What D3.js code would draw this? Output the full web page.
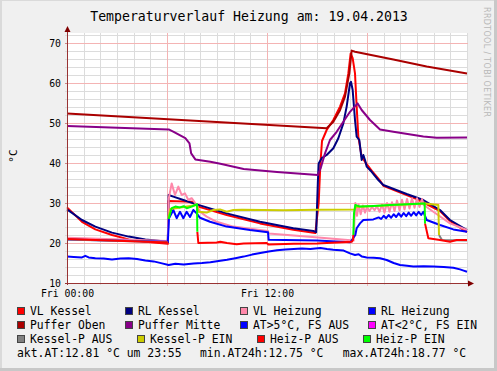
<!DOCTYPE html>
<html>
<head>
<meta charset="utf-8">
<script src="https://cdn.jsdelivr.net/npm/d3@7"></script>
<style>
body { margin: 0; background: #f0f0f0; }
svg { display: block; }
</style>
</head>
<body>
<div id="canvas"></div>
<script>
"use strict"

/* Data: [hour of the day, temperature in °C], null breaks a line */
let vlKessel = [[0,28.9],[0.9,25.3],[1.7,23.4],[2.7,22],[3.7,20.9],[4.7,20.3],[6.05,19.8],[6.08,30.5],[7.5,30.3],[7.88,29.1],
    [9.58,27.0],[11.58,24.9],[13.58,23.3],[14.9,22.5],[15.1,30],[15.2,39.5],[15.3,45.5],[15.58,48.25],[15.98,50.75],[16.38,54.1],
    [16.68,57.4],[16.88,62.4],[17.02,67.4],[17.14,66.2],[17.28,62.4],[17.38,54.1],[17.48,46.6],[17.68,41.6],[17.98,39.7],
    [18.28,38.1],[18.78,35.6],[18.98,34.3],[20.38,32.0],[20.98,31.0],[22.38,28.0],[22.98,25.5],[24,22.7]];

let rlKessel = [[0,28.4],[0.9,25.75],[1.7,24.1],[2.7,22.6],[3.7,21.6],[4.7,20.9],[6.05,20.3],[6.1,32],[6.38,31.6],[6.98,30.75],
    [7.58,29.9],[9.58,27.4],[11.58,25.3],[13.58,23.7],[14.78,23],[14.95,22.7],[15.05,35],[15.1,39.9],[15.28,41.2],[15.58,42],
    [15.98,43.7],[16.28,46.2],[16.58,49.9],[16.78,54.1],[16.98,59.9],[17.04,60.3],[17.14,58.25],[17.28,50.75],[17.38,46.6],
    [17.54,45.75],[17.68,40.75],[17.78,42],[17.88,40.75],[17.98,39.1],[18.28,37.8],[18.68,35.75],[18.98,34.5],[20.38,32.25],
    [21.38,30.75],[22.38,28.25],[22.98,25.75],[24,23.25]];

let vlHeizung = [[0,21.3],[6.05,20.5],[6.1,31],[6.28,34.9],[6.48,32],[6.68,34.1],[6.88,32],[7.08,32.4],[7.28,30.75],[7.48,31.2],
    [7.78,29.5],[7.98,27.8],[8.38,26.6],[8.98,25.3],[9.98,24.1],[11.58,23.25],[12.06,23],[12.1,22.4],[13.6,21.9],[15.08,21.4],
    [17.2,20.6],[17.25,26],[17.3,30.0],[17.4,26.8],[17.5,29.6],[17.62,27.2],[17.75,29.4],[17.88,27.6],[18.0,29.0],[18.15,28.0],
    [18.3,29.0],[18.45,28.2],[18.6,29.2],[18.75,27.8],[18.9,29.6],[19.05,27.6],[19.2,30.0],[19.35,27.8],[19.5,30.2],[19.65,28.0],
    [19.8,30.6],[19.95,28.2],[20.1,30.8],[20.25,28.4],[20.4,31.0],[20.55,28.6],[20.7,31.2],[20.85,28.8],[21.0,31.2],[21.15,29.0],
    [21.3,31.0],[21.4,29.5],[21.98,27.8],[22.98,24.9],[24,23.25]];

let rlHeizung = [[0,20.9],[6.05,20.3],[6.12,26.2],[6.38,28.25],[6.58,26.2],[6.78,27.8],[6.98,26.2],[7.18,27.8],[7.38,26.5],
    [7.58,28.25],[7.78,27.4],[7.98,26.3],[8.58,25.3],[9.58,24.1],[10.98,23.25],[12.06,22.7],[12.1,20.8],[15,20.6],[17.0,20.2],
    [17.3,22],[17.38,23.7],[17.58,24.9],[17.78,25.75],[18.38,25.9],[18.7,26.4],[18.85,26.0],[19.0,26.8],[19.15,26.2],[19.3,27.0],
    [19.45,26.3],[19.6,27.2],[19.75,26.5],[19.9,27.4],[20.05,26.6],[20.2,27.5],[20.35,26.7],[20.5,27.6],[20.65,26.8],[20.8,27.7],
    [20.95,26.9],[21.1,27.8],[21.25,27.0],[21.38,27.8],[21.58,25.75],[22.38,24.5],[23.18,23.4],[24,22.8]];

let pufferOben = [[0,52.4],[15.58,48.7],[15.98,50.3],[16.38,53.2],[16.68,56.6],[16.94,62.4],[17.08,68.1],[17.28,67.8],
    [19.58,65.9],[21.58,64.1],[24,62.4]];

let pufferMitte = [[0,49.25],[6.1,48.4],[6.4,47.8],[7.1,46.2],[7.35,44.9],[7.45,42.4],[7.7,40.9],[8.6,40.3],[9.2,39.8],
    [10.6,38.5],[12.6,37.75],[15.05,37],[15.22,38.7],[15.48,42.4],[15.78,45.75],[16.18,47.8],[16.58,50.3],[16.98,52.8],
    [17.44,54.9],[17.68,53.25],[18.18,50.75],[18.78,48.4],[19.58,47.8],[21.38,46.6],[22.18,46.3],[24,46.4]];

let atWarm = [[0,16.6],[0.4,16.5],[0.9,16.4],[1.1,16.8],[1.3,16.4],[1.7,16.2],[2.2,16.1],[2.7,15.9],[3.2,16.1],[3.7,16.2],
    [4.2,16.0],[4.7,15.6],[5.2,15.4],[5.7,14.9],[6.1,14.5],[6.5,14.8],[7.0,14.6],[7.6,14.9],[8.1,15.0],[8.6,15.2],[9.1,15.5],
    [9.6,15.8],[10.1,16.2],[10.6,16.6],[11.1,17.1],[11.6,17.5],[12.1,17.9],[12.6,18.2],[13.1,18.4],[13.6,18.5],[14.1,18.6],
    [14.6,18.5],[15.2,18.77],[15.6,18.5],[15.98,18.3],[16.6,18.1],[16.98,17.4],[17.28,17.0],[17.5,17.2],[17.7,16.6],[17.98,16.4],
    [18.4,16.3],[18.78,16.2],[19.18,15.75],[19.6,15.0],[19.98,14.5],[20.4,14.3],[20.78,14.1],[21.4,14.2],[21.98,14.1],
    [22.6,14.0],[23.18,13.8],[23.58,13.4],[23.8,13.1],[24,12.8]];

let atCold = [];

let kesselPAus = [[0,20.9],[6.05,20.2],null,[22.32,22],[22.5,20.75],[24,20.6]];

let kesselPEin = [[6.08,26.2],[6.2,28.5],[7.8,29.5],[7.88,27.8],[8.38,27.6],[8.78,28.25],[9.18,28.4],[9.58,27.8],[9.98,28.25],
    [10.5,28.3],[13.0,28.2],[15.0,28.3],[17.28,28.4],[17.3,29],[21.48,29.9],[22.28,29.5],[22.32,22]];

let heizPAus = [[0,21],[6.05,20.1],null,[7.82,22.8],[7.88,20],[8.98,20.1],[9.2,20.3],[9.6,20.0],[10.18,19.7],[10.6,19.9],
    [11.98,20.0],[12.1,19.6],[13.6,19.8],[15,19.9],[17.08,20.3],[17.16,20.75],[17.18,22],null,[21.48,24.9],[21.68,21.2],
    [22.38,20.75],[22.98,20.3],[23.38,20.75],[24,20.75]];

let heizPEin = [[6.1,26],[6.28,28.7],[6.5,29.1],[6.78,28.9],[7.0,29.2],[7.18,28.7],[7.48,29.1],[7.68,29.5],[7.8,29.7],[7.82,22.8],
    null,[17.18,22],[17.22,27.4],[17.3,29.5],[17.58,29.1],[18.38,29.25],[19.38,29.5],[20.38,29.7],[21.38,29.9],[21.46,29.9],[21.48,24.9]];

/* Series in drawing order, names and colours of the legend */
let seriesData = [vlKessel, rlKessel, vlHeizung, rlHeizung, pufferOben, pufferMitte, atWarm, atCold,
    kesselPAus, kesselPEin, heizPAus, heizPEin];
let seriesNames = ["VL Kessel", "RL Kessel", "VL Heizung", "RL Heizung", "Puffer Oben", "Puffer Mitte",
    "AT>5°C, FS AUS", "AT<2°C, FS EIN", "Kessel-P AUS", "Kessel-P EIN", "Heiz-P AUS", "Heiz-P EIN"];
let seriesColors = ["#ff0000", "#000080", "#ff88aa", "#0000ff", "#aa0000", "#880088",
    "#0000ff", "#ff00ff", "#808080", "#cccc00", "#ff0000", "#00ff00"];

/* Axis ticks */
let yTicks = [10, 20, 30, 40, 50, 60, 70];
let xTickHours = [0, 12];
let xTickLabels = ["Fri 00:00", "Fri 12:00"];

let titleText = "Temperaturverlauf Heizung am: 19.04.2013";
let statsTexts = ["akt.AT:12.81 °C um 23:55", "min.AT24h:12.75 °C", "max.AT24h:18.77 °C"];

/* Canvas */
let drawing = d3.select("#canvas")
    .append("svg")
    .attr("width", 497)
    .attr("height", 371);

let mono = "DejaVu Sans Mono, monospace";

/* background and shaded border */
drawing.append("rect")
    .attr("width", 497).attr("height", 371)
    .attr("fill", "#f0f0f0");
drawing.append("rect").attr("x", 0).attr("y", 0).attr("width", 2).attr("height", 371).attr("fill", "#dadada");
drawing.append("rect").attr("x", 0).attr("y", 0).attr("width", 497).attr("height", 1).attr("fill", "#dadada");
drawing.append("rect").attr("x", 494).attr("y", 0).attr("width", 3).attr("height", 371).attr("fill", "#c8c8c8");
drawing.append("rect").attr("x", 0).attr("y", 368).attr("width", 497).attr("height", 3).attr("fill", "#c8c8c8");

/* Scales */
let x = d3.scaleLinear().domain([0, 24]).range([67, 467]);
let y = d3.scaleLinear().domain([10, 72.5]).range([283, 33]);

/* plot area */
drawing.append("rect")
    .attr("x", x(0)).attr("y", y(72.5))
    .attr("width", x(24) - x(0) + 1).attr("height", y(10) - y(72.5))
    .attr("fill", "white");

/* minor grid */
let grid = drawing.append("g").attr("shape-rendering", "crispEdges");
grid.selectAll(".hmin")
    .data(d3.range(12, 73, 2))
    .join("line")
    .attr("x1", x(0) - 2).attr("x2", x(24) + 1)
    .attr("y1", d => Math.round(y(d)) + 0.5).attr("y2", d => Math.round(y(d)) + 0.5)
    .attr("stroke", "#dcdcdc");
grid.selectAll(".vmin")
    .data(d3.range(1, 25, 1))
    .join("line")
    .attr("x1", d => Math.round(x(d)) + 0.5).attr("x2", d => Math.round(x(d)) + 0.5)
    .attr("y1", y(72.5)).attr("y2", y(10) + 2)
    .attr("stroke", "#dcdcdc");

/* major grid */
grid.selectAll(".hmaj")
    .data(yTicks.slice(1))
    .join("line")
    .attr("x1", x(0) - 2).attr("x2", x(24) + 1)
    .attr("y1", d => Math.round(y(d)) + 0.5).attr("y2", d => Math.round(y(d)) + 0.5)
    .attr("stroke", "#f4b4b4");
grid.selectAll(".vmaj")
    .data([6, 12, 18])
    .join("line")
    .attr("x1", d => Math.round(x(d)) + 0.5).attr("x2", d => Math.round(x(d)) + 0.5)
    .attr("y1", y(72.5)).attr("y2", y(10) + 3)
    .attr("stroke", "#f4b4b4");

/* Lines */
let lineGen = d3.line()
    .defined(d => d !== null)
    .x(d => x(d[0]))
    .y(d => y(d[1]));

drawing.append("g")
    .selectAll("path")
    .data(seriesData)
    .join("path")
    .attr("d", d => lineGen(d))
    .attr("fill", "none")
    .attr("stroke", (d, i) => seriesColors[i])
    .attr("stroke-width", 2)
    .attr("stroke-linejoin", "round");

/* Axes */
let yAxis = drawing.append("g")
    .attr("transform", "translate(" + x(0) + ",0)")
    .call(d3.axisLeft(y).tickValues(yTicks).tickSize(2).tickPadding(4));
let xAxis = drawing.append("g")
    .attr("transform", "translate(0," + y(10) + ")")
    .call(d3.axisBottom(x).tickValues(xTickHours).tickFormat((d, i) => xTickLabels[i]).tickSize(2).tickPadding(5));

[yAxis, xAxis].forEach(function (ax) {
    ax.select(".domain").remove();
    ax.selectAll("line").attr("stroke", "#cc8888");
    ax.selectAll("text")
        .attr("fill", "#000")
        .style("font-family", mono)
        .style("font-size", "9.8px");
});

/* axis lines with arrows */
drawing.append("line")
    .attr("x1", x(0) - 2).attr("x2", x(24) + 3)
    .attr("y1", y(10) + 0.5).attr("y2", y(10) + 0.5)
    .attr("stroke", "#993333");
drawing.append("line")
    .attr("x1", x(0) + 0.5).attr("x2", x(0) + 0.5)
    .attr("y1", y(10) + 2).attr("y2", y(72.5) - 2)
    .attr("stroke", "#993333");
drawing.append("polygon")
    .attr("points", [[x(24) + 1, y(10) - 2.5], [x(24) + 1, y(10) + 3.5], [x(24) + 7, y(10) + 0.5]].join(" "))
    .attr("fill", "#800000");
drawing.append("polygon")
    .attr("points", [[x(0) - 2.5, y(72.5) - 1], [x(0) + 3.5, y(72.5) - 1], [x(0) + 0.5, y(72.5) - 7]].join(" "))
    .attr("fill", "#800000");

/* Title and unit */
drawing.append("text")
    .attr("x", 249).attr("y", 21)
    .attr("text-anchor", "middle")
    .style("font-family", mono)
    .style("font-size", "13.2px")
    .text(titleText);

drawing.append("text")
    .attr("transform", "translate(17,156) rotate(-90)")
    .attr("text-anchor", "middle")
    .style("font-family", mono)
    .style("font-size", "11px")
    .text("°C");

drawing.append("text")
    .attr("transform", "translate(484,7) rotate(90)")
    .attr("textLength", 110)
    .attr("fill", "#b8b8b8")
    .style("font-family", "DejaVu Sans, sans-serif")
    .style("font-size", "8px")
    .text("RRDTOOL / TOBI OETIKER");

/* Legend */
let legendRowY = [307, 321, 335];
let legendColX = [[17, 125, 240, 368], [17, 125, 240, 368], [17, 137, 257, 363]];
let legend = drawing.append("g");

seriesNames.forEach(function (name, i) {
    let row = Math.floor(i / 4);
    let col = i % 4;
    let lx = legendColX[row][col];
    let ly = legendRowY[row];
    legend.append("rect")
        .attr("x", lx + 0.5).attr("y", ly + 0.5)
        .attr("width", 7).attr("height", 7)
        .attr("fill", seriesColors[i])
        .attr("stroke", "#444")
        .attr("stroke-width", 1);
    legend.append("text")
        .attr("x", lx + 13).attr("y", ly + 8)
        .style("font-family", mono)
        .style("font-size", "11.4px")
        .text(name);
});

let statsX = [17, 200, 342.7];
statsTexts.forEach(function (t, i) {
    legend.append("text")
        .attr("x", statsX[i]).attr("y", 357)
        .style("font-family", mono)
        .style("font-size", "11.4px")
        .text(t);
});
</script>
</body>
</html>
